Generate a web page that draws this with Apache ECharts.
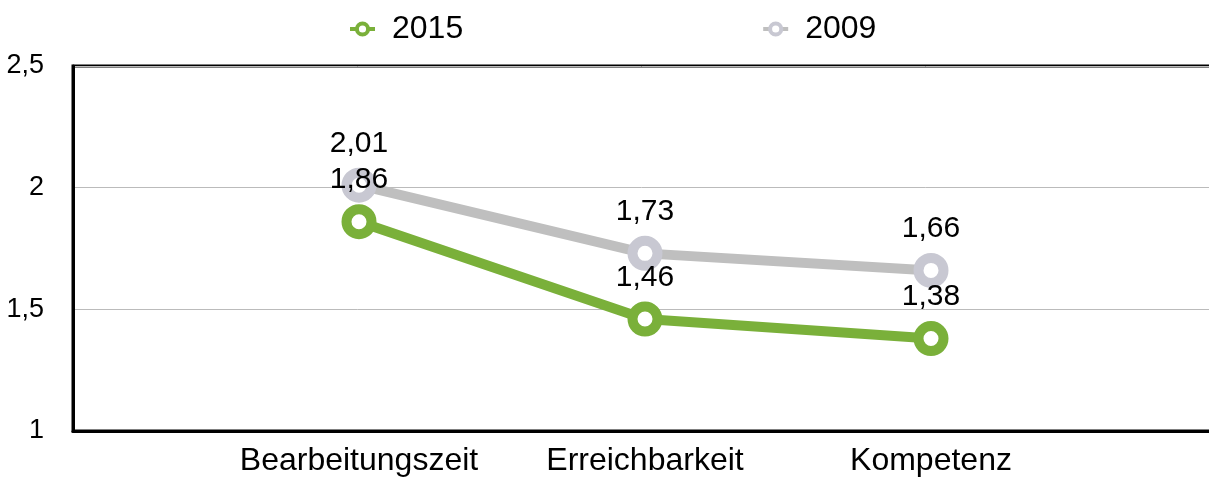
<!DOCTYPE html>
<html>
<head>
<meta charset="utf-8">
<script src="https://cdn.jsdelivr.net/npm/echarts@6/dist/echarts.min.js"></script>
<style>
  html, body { margin: 0; padding: 0; background: #fff; }
  #chart { width: 1209px; height: 477px; }
</style>
</head>
<body>
<div id="chart"></div>
<script>
  // categories, padded with an empty slot on each side like the original
  var categories = ['', 'Bearbeitungszeit', 'Erreichbarkeit', 'Kompetenz', ''];
  var values2015 = [null, 1.86, 1.46, 1.38, null];
  var values2009 = [null, 2.01, 1.73, 1.66, null];
  var yTicks = [1, 1.5, 2, 2.5];

  var green = '#7ab03a';
  var greyLine = '#bfbfbf';
  var greyMark = '#c8c8d2';
  var font = '"Liberation Sans", Arial, sans-serif';

  function comma(v) {
    return String(v).replace('.', ',');
  }

  var chart = echarts.init(document.getElementById('chart'));
  chart.setOption({
    animation: false,
    legend: {
      left: 343,
      top: 8,
      itemWidth: 25,
      itemHeight: 14,
      itemGap: 298,
      itemStyle: { borderWidth: 4 },
      lineStyle: { width: 4 },
      textStyle: { fontSize: 32, fontFamily: font, color: '#000', padding: [0, 0, 0, 12] },
      data: ['2015', '2009']
    },
    grid: {
      left: 73,
      top: 66,
      width: 1144,
      bottom: 46,
      outerBoundsMode: 'none',
      containLabel: false,
      show: true,
      borderColor: '#000',
      borderWidth: 3
    },
    xAxis: {
      type: 'category',
      boundaryGap: false,
      data: categories,
      axisLine: { lineStyle: { color: '#000', width: 3 } },
      axisTick: { show: false },
      axisLabel: { interval: 0, fontSize: 32, fontFamily: font, color: '#000', margin: 14 },
      splitLine: { show: false }
    },
    yAxis: {
      type: 'value',
      min: yTicks[0],
      max: yTicks[yTicks.length - 1],
      interval: 0.5,
      axisLine: { show: true, lineStyle: { color: '#000', width: 3 } },
      axisTick: { show: false },
      axisLabel: { fontSize: 27, fontFamily: font, color: '#000', margin: 29, formatter: comma },
      splitLine: { lineStyle: { color: '#bbb', width: 1 } }
    },
    series: [
      {
        name: '2015',
        type: 'line',
        data: values2015,
        symbol: 'circle',
        symbolSize: 25,
        z: 3,
        lineStyle: { color: green, width: 10 },
        itemStyle: { color: '#fff', borderColor: green, borderWidth: 10 },
        label: {
          show: true,
          position: 'top',
          distance: 9,
          fontSize: 30,
          fontFamily: font,
          color: '#000',
          formatter: function (p) { return comma(p.value); }
        }
      },
      {
        name: '2009',
        type: 'line',
        data: values2009,
        symbol: 'circle',
        symbolSize: 25,
        z: 2,
        lineStyle: { color: greyLine, width: 10 },
        itemStyle: { color: '#fff', borderColor: greyMark, borderWidth: 10 },
        label: {
          show: true,
          position: 'top',
          distance: 9,
          fontSize: 30,
          fontFamily: font,
          color: '#000',
          formatter: function (p) { return comma(p.value); }
        }
      }
    ]
  });
</script>
</body>
</html>
